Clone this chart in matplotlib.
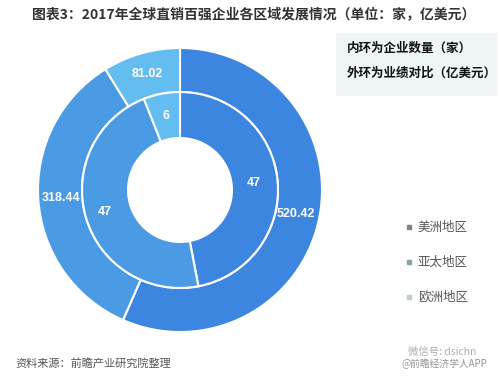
import matplotlib
matplotlib.use("Agg")
import matplotlib.pyplot as plt
import numpy as np
from matplotlib.patches import Rectangle
from matplotlib.lines import Line2D

plt.rcParams['font.family'] = ['Noto Sans CJK SC', 'DejaVu Sans']

regions = ['美洲地区', '亚太地区', '欧洲地区']
inner_counts = [47, 47, 6]
inner_labels = ['47', '47', '6']
outer_sales = [520.42, 318.44, 81.02]
outer_labels = ['520.42', '318.44', '81.02']
colors = ['#3d86e0', '#4a9be3', '#64bdf0']
legend_colors = ['#7a8590', '#7fa3aa', '#b9cfd3']

title = '图表3：2017年全球直销百强企业各区域发展情况（单位：家，亿美元）'
note1 = '内环为企业数量（家）'
note2 = '外环为业绩对比（亿美元）'
source = '资料来源：前瞻产业研究院整理'

W, H = 500, 379
fig = plt.figure(figsize=(5.0, 3.79), dpi=100)
fig.patch.set_facecolor('white')

cx, cy, R = 180, 190, 142
ax = fig.add_axes([(cx - R) / W, (H - cy - R) / H, 2 * R / W, 2 * R / H])

r_out, w_out = 1.0, 0.31
r_in, w_in = 0.69, 0.324

wo, _ = ax.pie(outer_sales, radius=r_out, colors=colors, startangle=90, counterclock=False,
               wedgeprops=dict(width=w_out, edgecolor='white', linewidth=1.5))
wi, _ = ax.pie(inner_counts, radius=r_in, colors=colors, startangle=90, counterclock=False,
               wedgeprops=dict(width=w_in, edgecolor='white', linewidth=1.5))
ax.set_xlim(-1, 1)
ax.set_ylim(-1, 1)
ax.set_aspect('equal')
ax.axis('off')

def label(wedges, texts, rads):
    for w, t, rad in zip(wedges, texts, rads):
        ang = np.deg2rad((w.theta1 + w.theta2) / 2)
        ax.text(rad * np.cos(ang), rad * np.sin(ang), t, ha='center', va='center',
                color='white', fontsize=9, fontweight='bold', family='Liberation Sans')

label(wo, outer_labels, [0.83, 0.84, 0.85])
label(wi, inner_labels, [0.52, 0.55, 0.53])

# title
fig.text(32 / W, 1 - 14 / H, title, ha='left', va='center', fontsize=10,
         fontweight='bold', color='#333333')

# note box
fig.patches.append(Rectangle((336 / W, 1 - 96 / H), 161 / W, 63 / H, transform=fig.transFigure,
                             facecolor='#eef5f7', edgecolor='none', zorder=0))
fig.text(347 / W, 1 - 48 / H, note1, ha='left', va='center', fontsize=9,
         fontweight='bold', color='#111111')
fig.text(347 / W, 1 - 73 / H, note2, ha='left', va='center', fontsize=9,
         fontweight='bold', color='#111111')

# legend
handles = [Line2D([0], [0], marker='s', linestyle='none', markersize=3,
                  markerfacecolor=c, markeredgecolor=c) for c in legend_colors]
fig.legend(handles, regions, loc='upper left', bbox_to_anchor=(399 / W, 1 - 215 / H),
           frameon=False, fontsize=9, labelcolor='#555555', labelspacing=1.75,
           handlelength=0.6, handletextpad=0.4, borderpad=0)

# footer
fig.text(15 / W, 1 - 363 / H, source, ha='left', va='center', fontsize=8,
         color='#555555', style='italic')
fig.text(408 / W, 1 - 352 / H, '微信号: dsichn', ha='left', va='center', fontsize=7.5,
         color='#9a9a9a', alpha=0.8)
fig.text(402 / W, 1 - 364 / H, '@前瞻经济学人APP', ha='left', va='center', fontsize=7,
         color='#888888', alpha=0.9)

fig.savefig('out.png', dpi=100, facecolor='white')
